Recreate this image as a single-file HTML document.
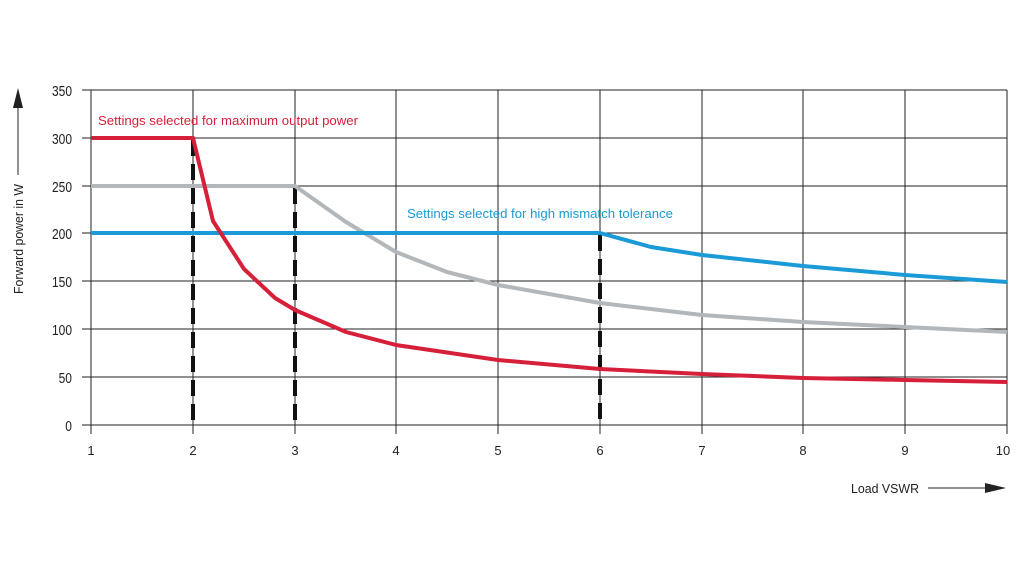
<!DOCTYPE html><html><head><style>body{margin:0;background:#fff}svg{display:block}text{font-family:"Liberation Sans",sans-serif;font-size:13px}text.yl{font-size:15px}</style></head><body>
<svg width="1024" height="576" viewBox="0 0 1024 576">
<g stroke="#222" stroke-width="1">
<line x1="82" y1="90" x2="1007" y2="90"/><line x1="82" y1="138" x2="1007" y2="138"/><line x1="82" y1="186" x2="1007" y2="186"/><line x1="82" y1="233" x2="1007" y2="233"/><line x1="82" y1="281" x2="1007" y2="281"/><line x1="82" y1="329" x2="1007" y2="329"/><line x1="82" y1="377" x2="1007" y2="377"/><line x1="82" y1="425" x2="1007" y2="425"/>
<line x1="91" y1="90" x2="91" y2="434"/><line x1="193" y1="90" x2="193" y2="434"/><line x1="295" y1="90" x2="295" y2="434"/><line x1="396" y1="90" x2="396" y2="434"/><line x1="498" y1="90" x2="498" y2="434"/><line x1="600" y1="90" x2="600" y2="434"/><line x1="702" y1="90" x2="702" y2="434"/><line x1="803" y1="90" x2="803" y2="434"/><line x1="905" y1="90" x2="905" y2="434"/><line x1="1007" y1="90" x2="1007" y2="434"/>
</g>
<g fill="#222" text-anchor="end" transform="scale(0.8,1)">
<text class="yl" x="90" y="96">350</text><text class="yl" x="90" y="144">300</text><text class="yl" x="90" y="192">250</text><text class="yl" x="90" y="239">200</text><text class="yl" x="90" y="287">150</text><text class="yl" x="90" y="335">100</text><text class="yl" x="90" y="383">50</text><text class="yl" x="90" y="431">0</text>
</g>
<g fill="#222" text-anchor="middle">
<text x="91" y="455">1</text><text x="193" y="455">2</text><text x="295" y="455">3</text><text x="396" y="455">4</text><text x="498" y="455">5</text><text x="600" y="455">6</text><text x="702" y="455">7</text><text x="803" y="455">8</text><text x="905" y="455">9</text><text x="1003" y="455">10</text>
</g>
<text x="851" y="493" fill="#222" textLength="68" lengthAdjust="spacingAndGlyphs">Load VSWR</text>
<line x1="928" y1="488" x2="990" y2="488" stroke="#222" stroke-width="1"/><polygon points="985,483 1006,488 985,493" fill="#222"/>
<text transform="translate(23,294) rotate(-90)" fill="#222" textLength="110" lengthAdjust="spacingAndGlyphs">Forward power in W</text>
<line x1="18" y1="175" x2="18" y2="105" stroke="#222" stroke-width="1"/><polygon points="13,108 18,88 23,108" fill="#222"/>
<g stroke="#111" stroke-width="4" stroke-dasharray="16,8" fill="none">
<line x1="193" y1="140" x2="193" y2="425"/><line x1="295" y1="188" x2="295" y2="425"/><line x1="600" y1="235" x2="600" y2="425"/>
</g>
<g fill="none" stroke-width="4" stroke-linejoin="round">
<polyline stroke="#b2b7bb" points="91,186 295,186 346,222 396,252 447,272 498,285 600,303 702,315 803,322 905,327 1007,332"/>
<polyline stroke="#1a9ad6" points="91,233 600,233 651,247 702,255 803,266 905,275 1007,282"/>
<polyline stroke="#d6203a" points="91,138 193,138 213,221 244,269 275,298 295,310 346,332 396,345 498,360 600,369 702,374 803,378 905,380 1007,382"/>
</g>
<text x="98" y="125" fill="#d6203a" textLength="260" lengthAdjust="spacingAndGlyphs">Settings selected for maximum output power</text>
<text x="407" y="218" fill="#1a9ad6" textLength="266" lengthAdjust="spacingAndGlyphs">Settings selected for high mismatch tolerance</text>
</svg></body></html>
